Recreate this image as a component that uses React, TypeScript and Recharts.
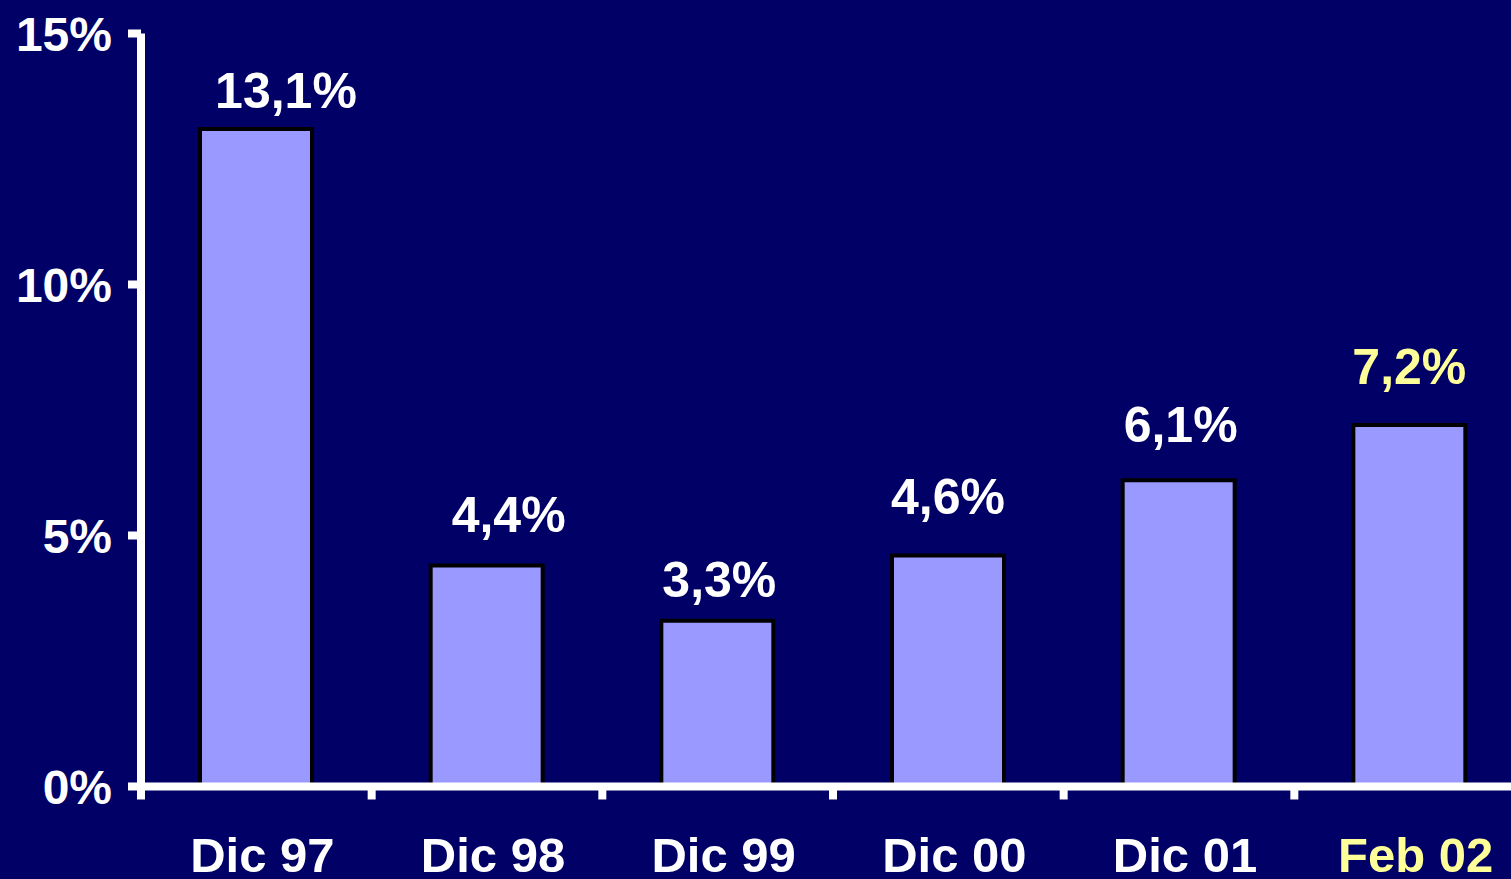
import { Bar, BarChart, XAxis, YAxis } from 'recharts';

const CATEGORIES = ['Dic 97', 'Dic 98', 'Dic 99', 'Dic 00', 'Dic 01', 'Feb 02'];
const VALUES = [13.1, 4.4, 3.3, 4.6, 6.1, 7.2];
const Y_TICKS = [0, 5, 10, 15];
const EDGE_TICKS = [0, 1, 2, 3, 4, 5, 6];
const HIGHLIGHT = 'Feb 02';

// small per-label nudges, the original labels were placed by hand
const LABEL_DX = [30, 22, 2, 0, 2, 0];
const LABEL_GAP = [21, 34, 24, 42, 38, 41];

const BG = '#000066';
const BAR = '#9999FF';
const YELLOW = '#FFFF99';
const FONT = '"Liberation Sans", Arial, Helvetica, sans-serif';

const CHART_W = 1530;
const Y_AXIS_W = 141;
const RIGHT = 5;
const BAND = (CHART_W - Y_AXIS_W - RIGHT) / CATEGORIES.length;

const data = CATEGORIES.map((name, i) => ({ name, value: VALUES[i] }));

const fmt = (v: number) => v.toFixed(1).replace('.', ',') + '%';

function ValueLabel(props: any) {
  const { x, y, width, value } = props;
  let i = props.index;
  if (i == null) i = VALUES.indexOf(Number(value));
  const cx = Number(x) + Number(width) / 2 + (LABEL_DX[i] ?? 0);
  const ty = Number(y) - (LABEL_GAP[i] ?? 30);
  const color = CATEGORIES[i] === HIGHLIGHT ? YELLOW : '#FFFFFF';
  return (
    <text x={cx} y={ty} textAnchor="middle" fill={color} fontSize={50} fontWeight="bold" fontFamily={FONT}>
      {fmt(Number(value))}
    </text>
  );
}

function CategoryTick(props: any) {
  const { x, y, payload } = props;
  const color = payload.value === HIGHLIGHT ? YELLOW : '#FFFFFF';
  return (
    <text x={Number(x) + 6} y={Number(y) + 85} textAnchor="middle" fill={color} fontSize={49} fontWeight="bold" fontFamily={FONT}>
      {payload.value}
    </text>
  );
}

export default function App() {
  return (
    <div style={{ position: 'absolute', left: 0, top: 0, width: 1511, height: 879, overflow: 'hidden', background: BG }}>
      <BarChart width={CHART_W} height={879} data={data} margin={{ top: 33.5, right: RIGHT, left: 0, bottom: 0 }}>
        <XAxis
          xAxisId="cat"
          dataKey="name"
          height={92.5}
          interval={0}
          axisLine={{ stroke: '#FFFFFF', strokeWidth: 8 }}
          tickLine={false}
          tickSize={0}
          tickMargin={0}
          tick={<CategoryTick />}
        />
        {/* boundary ticks between categories */}
        <XAxis
          xAxisId="aEdge"
          type="number"
          domain={[0, 6]}
          ticks={EDGE_TICKS}
          allowDataOverflow
          interval={0}
          padding={{ left: 0, right: BAND }}
          height={0.01}
          axisLine={false}
          tick={() => <g />}
          tickSize={13}
          tickLine={{ stroke: '#FFFFFF', strokeWidth: 8 }}
        />
        <YAxis
          width={Y_AXIS_W}
          domain={[0, 15]}
          ticks={Y_TICKS}
          interval={0}
          tickFormatter={(v) => v + '%'}
          axisLine={{ stroke: '#FFFFFF', strokeWidth: 8 }}
          tickLine={{ stroke: '#FFFFFF', strokeWidth: 8 }}
          tickSize={13}
          tickMargin={16}
          tick={{ fill: '#FFFFFF', fontSize: 48, fontWeight: 'bold', fontFamily: FONT }}
        />
        <Bar
          xAxisId="cat"
          dataKey="value"
          barSize={112}
          fill={BAR}
          stroke="#000000"
          strokeWidth={4}
          isAnimationActive={false}
          label={<ValueLabel />}
        />
      </BarChart>
    </div>
  );
}
